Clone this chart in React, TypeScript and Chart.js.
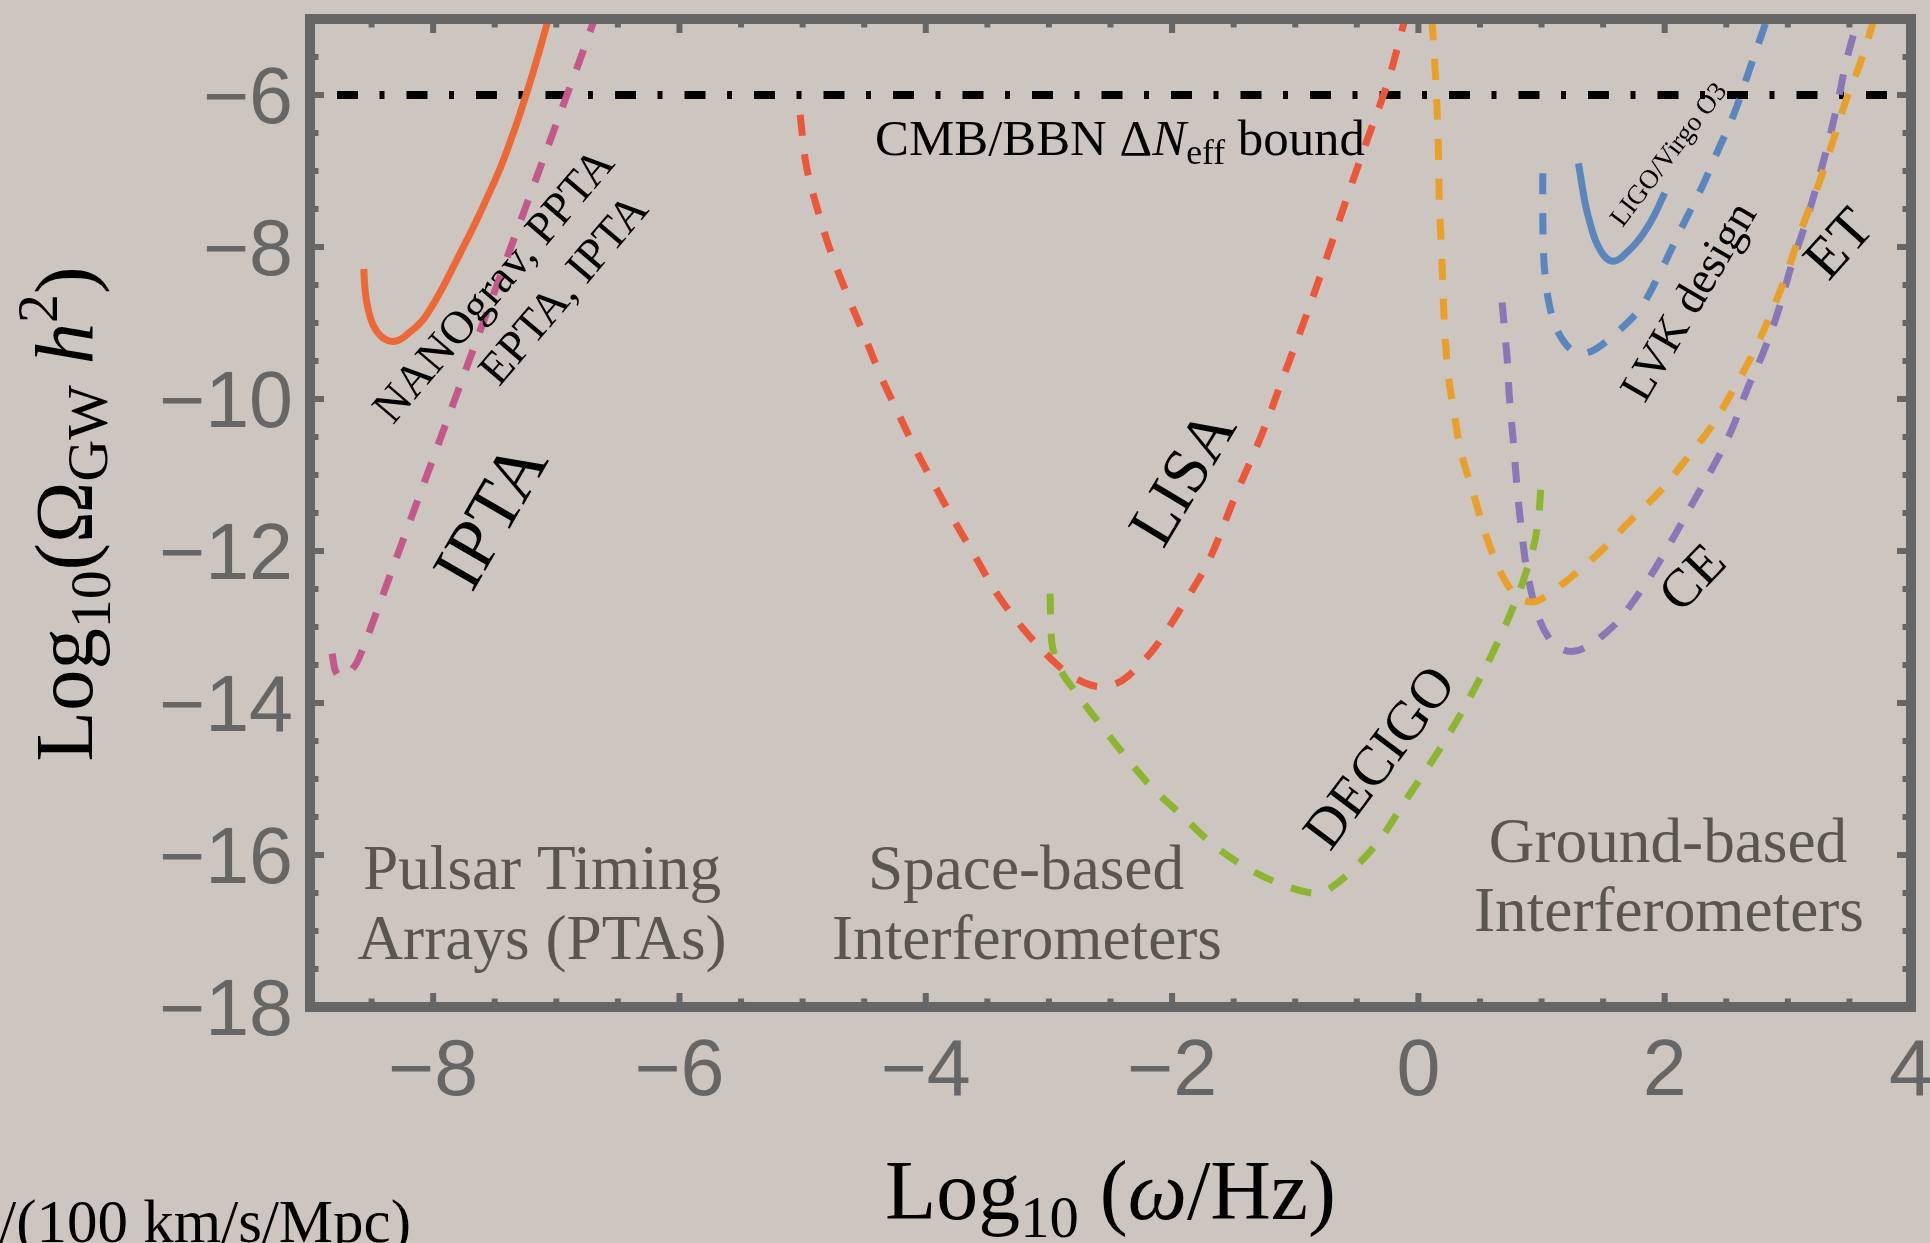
import React, { useEffect, useRef } from "react";
import { Chart, registerables } from "chart.js";

Chart.register(...registerables);

// ---------- axis ranges & ticks ----------
const X_RANGE = [-9, 4];
const Y_RANGE = [-18, -5];
const xTickValues = [-8, -6, -4, -2, 0, 2, 4];
const xTickLabels = ["\u22128", "\u22126", "\u22124", "\u22122", "0", "2", "4"];
const yTickValues = [-6, -8, -10, -12, -14, -16, -18];
const yTickLabels = ["\u22126", "\u22128", "\u221210", "\u221212", "\u221214", "\u221216", "\u221218"];
const MINOR_STEP = 0.5;

// ---------- series (log10 omega, log10 Omega h^2) ----------
const nanogravX = [-8.563, -8.555, -8.54, -8.51, -8.47, -8.42, -8.37, -8.31, -8.25, -8.19, -8.13, -8.07, -7.98, -7.88, -7.78, -7.68, -7.57, -7.46, -7.38, -7.3, -7.23, -7.17, -7.12, -7.07];
const nanogravY = [-8.29, -8.52, -8.72, -8.93, -9.08, -9.18, -9.23, -9.24, -9.2, -9.12, -9.04, -8.93, -8.7, -8.4, -8.08, -7.76, -7.38, -6.98, -6.64, -6.27, -5.92, -5.6, -5.32, -5.03];

const iptaX = [-8.82, -8.8, -8.77, -8.72, -8.67, -8.62, -8.55, -8.42, -8.3, -8.15, -7.95, -7.75, -7.55, -7.35, -7.15, -6.95, -6.8, -6.69];
const iptaY = [-13.35, -13.55, -13.64, -13.64, -13.58, -13.47, -13.2, -12.63, -12.1, -11.44, -10.56, -9.68, -8.8, -7.92, -7.04, -6.16, -5.5, -5.0];

const lisaX = [-5.02, -4.97, -4.88, -4.77, -4.64, -4.5, -4.37, -4.22, -4.08, -3.93, -3.77, -3.6, -3.41, -3.19, -2.97, -2.8, -2.62, -2.48, -2.36, -2.14, -1.92, -1.7, -1.49, -1.27, -1.09, -0.91, -0.73, -0.58, -0.4, -0.26, -0.17, -0.11];
const lisaY = [-6.26, -6.93, -7.5, -8.07, -8.62, -9.16, -9.68, -10.2, -10.67, -11.13, -11.6, -12.07, -12.59, -13.06, -13.44, -13.66, -13.78, -13.76, -13.65, -13.27, -12.73, -12.12, -11.29, -10.46, -9.68, -8.9, -8.07, -7.35, -6.52, -5.89, -5.38, -5.0];

const decigoX = [-2.99, -2.985, -2.97, -2.9, -2.79, -2.59, -2.39, -2.17, -1.92, -1.67, -1.38, -1.09, -0.87, -0.76, -0.55, -0.31, -0.12, 0.08, 0.27, 0.44, 0.6, 0.73, 0.86, 0.96, 1.0];
const decigoY = [-12.56, -12.9, -13.27, -13.58, -13.84, -14.27, -14.68, -15.1, -15.48, -15.86, -16.18, -16.4, -16.5, -16.48, -16.22, -15.79, -15.32, -14.84, -14.35, -13.86, -13.35, -12.89, -12.35, -11.75, -11.05];

const ceX = [0.68, 0.7, 0.72, 0.74, 0.77, 0.8, 0.83, 0.88, 0.96, 1.05, 1.15, 1.26, 1.39, 1.52, 1.645, 1.86, 2.04, 2.22, 2.39, 2.54, 2.67, 2.8, 2.92, 3.03, 3.14, 3.24, 3.32, 3.4, 3.47, 3.55, 3.58];
const ceY = [-8.73, -9.1, -9.45, -10.0, -10.54, -11.14, -11.62, -12.24, -12.8, -13.12, -13.28, -13.32, -13.24, -13.08, -12.88, -12.39, -11.91, -11.39, -10.9, -10.42, -9.87, -9.39, -8.85, -8.24, -7.71, -7.16, -6.68, -6.14, -5.59, -5.11, -4.95];

const etX = [0.11, 0.14, 0.16, 0.17, 0.19, 0.21, 0.24, 0.29, 0.35, 0.45, 0.55, 0.67, 0.8, 0.91, 1.0, 1.19, 1.45, 1.71, 1.97, 2.18, 2.38, 2.56, 2.72, 2.87, 3.0, 3.11, 3.24, 3.34, 3.47, 3.57, 3.68, 3.7];
const etY = [-5.0, -5.78, -6.56, -7.4, -8.13, -8.97, -9.64, -10.18, -10.72, -11.26, -11.8, -12.29, -12.6, -12.67, -12.63, -12.41, -12.05, -11.62, -11.2, -10.78, -10.36, -9.87, -9.39, -8.85, -8.31, -7.77, -7.22, -6.74, -6.08, -5.66, -5.11, -4.95];

const lvkX = [1.01, 1.01, 1.02, 1.05, 1.1, 1.17, 1.25, 1.34, 1.42, 1.52, 1.63, 1.81, 1.97, 2.13, 2.3, 2.43, 2.56, 2.69, 2.82];
const lvkY = [-7.03, -7.6, -8.2, -8.65, -8.98, -9.22, -9.36, -9.4, -9.36, -9.25, -9.1, -8.79, -8.31, -7.77, -7.22, -6.74, -6.26, -5.66, -5.05];

const o3X = [1.3, 1.33, 1.36, 1.4, 1.44, 1.5, 1.56, 1.62, 1.68, 1.75, 1.82, 1.91, 2.0];
const o3Y = [-6.9, -7.2, -7.47, -7.72, -7.92, -8.1, -8.18, -8.17, -8.09, -7.98, -7.84, -7.6, -7.29];

const cmbX = [-9, 4];
const cmbY = [-6, -6];

// ---------- text ----------
const LABEL_CMB = ["CMB/BBN ", "\u0394", "N", "eff", " bound"];
const LABEL_PTA1 = "NANOgrav, PPTA";
const LABEL_PTA2 = "EPTA, IPTA";
const REGION_PTA = ["Pulsar Timing", "Arrays (PTAs)"];
const REGION_SPACE = ["Space-based", "Interferometers"];
const REGION_GROUND = ["Ground-based", "Interferometers"];

const SERIF = '"Liberation Serif", "DejaVu Serif", serif';
const SANS = '"Liberation Sans", Arial, sans-serif';
const BG = "#CCC5C0";
const AXIS = "#666666";

type Run = { t: string; s?: number; it?: boolean; dy?: number };

function fnt(size: number, italic?: boolean, family = SERIF) {
  return `${italic ? "italic " : ""}${size}px ${family}`;
}

function richWidth(ctx: CanvasRenderingContext2D, runs: Run[], F: number, family: string) {
  let w = 0;
  for (const r of runs) {
    ctx.font = fnt(F * (r.s ?? 1), r.it, family);
    w += ctx.measureText(r.t).width;
  }
  return w;
}

function drawRich(
  ctx: CanvasRenderingContext2D,
  runs: Run[],
  o: { x: number; y: number; angle?: number; size?: number; width?: number; family?: string; color?: string; align?: "left" | "center" | "right"; mid?: boolean }
) {
  const fam = o.family ?? SERIF;
  let F = o.size ?? 40;
  if (o.width) {
    const w0 = richWidth(ctx, runs, 100, fam);
    F = (100 * o.width) / w0;
  }
  const W = richWidth(ctx, runs, F, fam);
  ctx.save();
  ctx.translate(o.x, o.y);
  ctx.rotate(((o.angle ?? 0) * Math.PI) / 180);
  ctx.fillStyle = o.color ?? "#000";
  ctx.textAlign = "left";
  ctx.textBaseline = "alphabetic";
  const align = o.align ?? "center";
  let x0 = align === "center" ? -W / 2 : align === "right" ? -W : 0;
  const by = o.mid ? 0.33 * F : 0;
  for (const r of runs) {
    ctx.font = fnt(F * (r.s ?? 1), r.it, fam);
    ctx.fillText(r.t, x0, by + (r.dy ?? 0) * F);
    x0 += ctx.measureText(r.t).width;
  }
  ctx.restore();
  return F;
}

function zip(xs: number[], ys: number[]) {
  return xs.map((x, i) => ({ x, y: ys[i] }));
}

const decorPlugin = {
  id: "decor",
  beforeDraw(chart: any) {
    const ctx: CanvasRenderingContext2D = chart.ctx;
    ctx.save();
    ctx.fillStyle = BG;
    ctx.fillRect(0, 0, chart.width, chart.height);
    ctx.restore();
  },
  afterDraw(chart: any) {
    const ctx: CanvasRenderingContext2D = chart.ctx;
    const { left, right, top, bottom } = chart.chartArea;
    const xs = chart.scales.x;
    const ys = chart.scales.y;

    // ----- annotations inside the plot -----
    drawRich(ctx, [
      { t: LABEL_CMB[0] },
      { t: LABEL_CMB[1] },
      { t: LABEL_CMB[2], it: true },
      { t: LABEL_CMB[3], s: 0.7, dy: 0.18 },
      { t: LABEL_CMB[4] },
    ], { x: 1120, y: 155, width: 490 });

    drawRich(ctx, [{ t: LABEL_PTA1 }], { x: 493, y: 285, angle: -49.5, size: 46, mid: true });
    drawRich(ctx, [{ t: LABEL_PTA2 }], { x: 563, y: 289, angle: -49.5, size: 46, mid: true });
    drawRich(ctx, [{ t: "IPTA" }], { x: 490, y: 515, angle: -60, size: 72, mid: true });
    drawRich(ctx, [{ t: "LISA" }], { x: 1182, y: 477, angle: -59, size: 65, mid: true });
    drawRich(ctx, [{ t: "DECIGO" }], { x: 1379, y: 757, angle: -53, size: 56, mid: true });
    drawRich(ctx, [{ t: "CE" }], { x: 1692, y: 577, angle: -46, size: 54, mid: true });
    drawRich(ctx, [{ t: "ET" }], { x: 1838, y: 243, angle: -48, size: 58, mid: true });
    drawRich(ctx, [{ t: "LVK design" }], { x: 1688, y: 301, angle: -59.5, size: 46, mid: true });
    drawRich(ctx, [{ t: "LIGO/Virgo O3" }], { x: 1668, y: 154, angle: -52.5, size: 27, mid: true });

    // region labels
    const grey = "#59554F";
    const Fg = drawRich(ctx, [{ t: REGION_SPACE[1] }], { x: 1027, y: 959, width: 390, color: grey });
    drawRich(ctx, [{ t: REGION_SPACE[0] }], { x: 1026, y: 889, size: Fg, color: grey });
    drawRich(ctx, [{ t: REGION_PTA[0] }], { x: 542, y: 889, size: Fg, color: grey });
    drawRich(ctx, [{ t: REGION_PTA[1] }], { x: 542, y: 959, size: Fg, color: grey });
    drawRich(ctx, [{ t: REGION_GROUND[0] }], { x: 1668, y: 862, size: Fg, color: grey });
    drawRich(ctx, [{ t: REGION_GROUND[1] }], { x: 1669, y: 931, size: Fg, color: grey });

    // ----- frame ticks -----
    ctx.save();
    ctx.strokeStyle = AXIS;
    ctx.lineWidth = 6;
    ctx.lineCap = "butt";
    ctx.beginPath();
    for (let v = X_RANGE[0] + MINOR_STEP; v < X_RANGE[1] - 1e-6; v += MINOR_STEP) {
      const px = xs.getPixelForValue(v);
      const major = xTickValues.some((t) => Math.abs(t - v) < 1e-6);
      const len = major ? 14 : 8.5;
      ctx.moveTo(px, bottom);
      ctx.lineTo(px, bottom - len);
      ctx.moveTo(px, top);
      ctx.lineTo(px, top + len);
    }
    for (let v = Y_RANGE[0] + MINOR_STEP; v < Y_RANGE[1] - 1e-6; v += MINOR_STEP) {
      const py = ys.getPixelForValue(v);
      const major = yTickValues.some((t) => Math.abs(t - v) < 1e-6);
      const len = major ? 14 : 8.5;
      ctx.moveTo(left, py);
      ctx.lineTo(left + len, py);
      ctx.moveTo(right, py);
      ctx.lineTo(right - len, py);
    }
    ctx.stroke();
    ctx.lineWidth = 10;
    ctx.strokeRect(left, top, right - left, bottom - top);
    ctx.restore();

    // ----- tick labels -----
    ctx.save();
    ctx.fillStyle = AXIS;
    ctx.font = `79px ${SANS}`;
    ctx.textBaseline = "alphabetic";
    ctx.textAlign = "center";
    xTickValues.forEach((v, i) => {
      ctx.fillText(xTickLabels[i], xs.getPixelForValue(v), 1095);
    });
    ctx.textAlign = "right";
    yTickValues.forEach((v, i) => {
      ctx.fillText(yTickLabels[i], 293, ys.getPixelForValue(v) + 28);
    });
    ctx.restore();

    // ----- axis titles -----
    drawRich(ctx, [
      { t: "Log" },
      { t: "10", s: 0.7, dy: 0.22 },
      { t: " (" },
      { t: "\u03C9", it: true },
      { t: "/Hz)" },
    ], { x: (left + right) / 2, y: 1219, width: 451 });

    drawRich(ctx, [
      { t: "Log" },
      { t: "10", s: 0.7, dy: 0.22 },
      { t: "(" },
      { t: "\u03A9" },
      { t: "GW", s: 0.7, dy: 0.18 },
      { t: " " },
      { t: "h", it: true },
      { t: "2", s: 0.7, dy: -0.42 },
      { t: ")" },
    ], { x: 92, y: 514, angle: -90, width: 495 });

    drawRich(ctx, [{ t: "/(100 km/s/Mpc)" }], { x: 411, y: 1242, size: 61, align: "right" });
  },
};

export default function App() {
  const ref = useRef<HTMLCanvasElement | null>(null);
  useEffect(() => {
    document.body.style.margin = "0";
    const canvas = ref.current;
    if (!canvas) return;
    const dashed = [21, 19];
    const mk = (label: string, xs: number[], ys: number[], color: string, dash: number[], width = 7, tension = 0.35) => ({
      label,
      data: zip(xs, ys),
      borderColor: color,
      backgroundColor: color,
      borderWidth: width,
      borderDash: dash,
      borderCapStyle: "butt" as const,
      pointRadius: 0,
      tension,
      fill: false,
    });
    const chart = new Chart(canvas, {
      type: "line",
      data: {
        datasets: [
          mk("NANOGrav", nanogravX, nanogravY, "#EC6937", [], 7, 0.4),
          mk("IPTA", iptaX, iptaY, "#C2598A", dashed, 7, 0.2),
          mk("LISA", lisaX, lisaY, "#EB573B", dashed),
          mk("DECIGO", decigoX, decigoY, "#8DB532", dashed),
          mk("ET", etX, etY, "#E9A02A", dashed),
          mk("CE", ceX, ceY, "#8878B8", dashed),
          mk("LVK design", lvkX, lvkY, "#5B86BD", dashed),
          mk("LIGO/Virgo O3", o3X, o3Y, "#5B86BD", [], 7),
          {
            ...mk("CMB/BBN bound", cmbX, cmbY, "#000000", [21, 21.5, 5, 22], 8, 0),
            borderDashOffset: 42.5,
          },
        ],
      },
      options: {
        responsive: false,
        devicePixelRatio: 1,
        animation: false,
        events: [],
        layout: { padding: { left: 310, right: 19, top: 19, bottom: 236 } },
        scales: {
          x: { type: "linear", min: X_RANGE[0], max: X_RANGE[1], display: false },
          y: { type: "linear", min: Y_RANGE[0], max: Y_RANGE[1], display: false },
        },
        plugins: { legend: { display: false }, tooltip: { enabled: false } },
      },
      plugins: [decorPlugin],
    });
    return () => chart.destroy();
  }, []);
  return <canvas ref={ref} width={1930} height={1243} style={{ display: "block", width: 1930, height: 1243 }} />;
}
